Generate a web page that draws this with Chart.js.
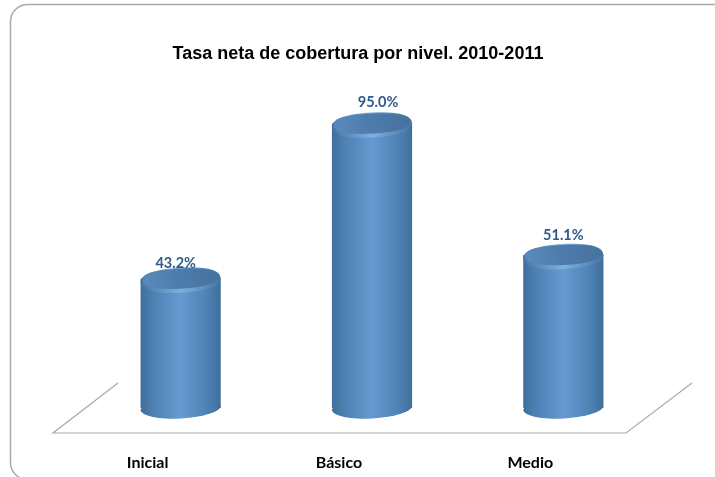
<!DOCTYPE html>
<html>
<head>
<meta charset="utf-8">
<style>
  html, body { margin: 0; padding: 0; background: #fff; }
  #wrap { width: 715px; height: 477px; }
</style>
<script src="https://cdn.jsdelivr.net/npm/chart.js@4/dist/chart.umd.min.js"></script>
</head>
<body>
<div id="wrap"><canvas id="myChart" width="715" height="477"></canvas></div>
<script>
var categories = ['Inicial', 'Básico', 'Medio'];
var cobertura = [43.2, 95.0, 51.1];
var chartTitle = 'Tasa neta de cobertura por nivel. 2010-2011';

// degradado horizontal del cilindro
function cylinderGradient(ctx, x0, x1, edge, mid) {
    var g = ctx.createLinearGradient(x0, 0, x1, 0);
    g.addColorStop(0, edge);
    g.addColorStop(0.14, '#4c7fb1');
    g.addColorStop(0.5, mid);
    g.addColorStop(0.86, '#4c7fb1');
    g.addColorStop(1, edge);
    return g;
}

// elipse algo cuadrada, como la tapa biselada del original
function capPath(c, cx, cy, rx, ry, tilt) {
    var k = 0.65;
    c.save();
    c.translate(cx, cy);
    c.rotate(tilt);
    c.beginPath();
    c.moveTo(-rx, 0);
    c.bezierCurveTo(-rx, -ry * k, -rx * k, -ry, 0, -ry);
    c.bezierCurveTo(rx * k, -ry, rx, -ry * k, rx, 0);
    c.bezierCurveTo(rx, ry * k, rx * k, ry, 0, ry);
    c.bezierCurveTo(-rx * k, ry, -rx, ry * k, -rx, 0);
    c.closePath();
    c.restore();
}

// marco redondeado y piso en perspectiva, detras de las barras
var backdrop = {
    id: 'backdrop',
    afterLayout: function (chart) {
        // el titulo va centrado en la pagina, no sobre el area de barras
        chart.titleBlock.left -= 28;
    },
    beforeDatasetsDraw: function (chart) {
        var c = chart.ctx, a = chart.chartArea;
        c.save();
        c.strokeStyle = '#aaaaaa';
        c.lineWidth = 1.5;
        c.beginPath();
        c.roundRect(10.5, 4.5, 760, 475, 17);
        c.stroke();
        var floorY = a.bottom + 25;
        c.lineWidth = 1.2;
        c.beginPath();
        c.moveTo(a.left + 33, a.bottom - 25);
        c.lineTo(a.left - 32, floorY);
        c.lineTo(a.right - 33, floorY);
        c.lineTo(a.right + 33, a.bottom - 25);
        c.stroke();
        c.restore();
    }
};

// tapas elipticas y etiquetas de valor
var cylinders = {
    id: 'cylinders',
    afterDatasetsDraw: function (chart) {
        var c = chart.ctx;
        var nudgeX = [-5, 6, 0];
        var nudgeY = [-15, -21, -20];
        chart.getDatasetMeta(0).data.forEach(function (bar, i) {
            var rx = bar.width / 2, ry = 11, tilt = -0.055;
            var x0 = bar.x - rx, x1 = bar.x + rx;
            c.save();
            // base
            c.fillStyle = cylinderGradient(c, x0, x1, '#3f6e9a', '#669bd1');
            c.beginPath();
            c.ellipse(bar.x, bar.base, rx, ry - 0.5, tilt, 0, Math.PI * 2);
            c.fill();
            // borde claro de la tapa
            var rim = c.createLinearGradient(x0, 0, x1, 0);
            rim.addColorStop(0, '#4575a5');
            rim.addColorStop(0.5, '#7fb1e0');
            rim.addColorStop(1, '#4575a5');
            c.fillStyle = rim;
            capPath(c, bar.x, bar.y + 1.5, rx, ry + 1.5, tilt);
            c.fill();
            // tapa
            var top = c.createLinearGradient(x0, bar.y + 8, x1, bar.y - 8);
            top.addColorStop(0, '#5b8cbd');
            top.addColorStop(0.45, '#4e7dad');
            top.addColorStop(1, '#45719d');
            c.fillStyle = top;
            capPath(c, bar.x, bar.y, rx - 2, ry - 1, tilt);
            c.fill();
            // valor
            c.fillStyle = '#2f5a8a';
            c.font = 'bold 14.5px Lato, "Open Sans", sans-serif';
            c.textAlign = 'center';
            c.textBaseline = 'middle';
            c.fillText(cobertura[i].toFixed(1) + '%', bar.x + nudgeX[i], bar.y + nudgeY[i]);
            c.restore();
        });
    }
};

var ctx = document.getElementById('myChart').getContext('2d');
var myChart = new Chart(ctx, {
    type: 'bar',
    data: {
        labels: categories,
        datasets: [{
            data: cobertura,
            borderWidth: 0,
            backgroundColor: function (context) {
                var chart = context.chart, a = chart.chartArea;
                if (!a) return '#5b8fc4';
                var w = a.width / categories.length;
                var half = w * 0.419 / 2;
                var cx = a.left + w * (context.dataIndex + 0.5);
                return cylinderGradient(chart.ctx, cx - half, cx + half, '#3f6e9a', '#669bd1');
            },
            categoryPercentage: 1,
            barPercentage: 0.419
        }]
    },
    options: {
        responsive: false,
        animation: false,
        layout: { padding: { left: 85, right: 56, top: 0, bottom: 0 } },
        plugins: {
            legend: { display: false },
            tooltip: { enabled: false },
            title: {
                display: true,
                text: chartTitle,
                color: '#000',
                font: { family: '"Liberation Sans", Arial, sans-serif', size: 18, weight: 'bold' },
                padding: { top: 43, bottom: 44 }
            }
        },
        scales: {
            x: {
                grid: { display: false },
                border: { display: false },
                afterFit: function (scale) { scale.height = 69; },
                ticks: {
                    color: '#000',
                    labelOffset: -33,
                    padding: 37,
                    maxRotation: 0,
                    font: { family: 'Lato, "Open Sans", sans-serif', size: 16, weight: 'bold' }
                }
            },
            y: {
                display: false,
                min: 0,
                max: 100
            }
        }
    },
    plugins: [backdrop, cylinders]
});
</script>
</body>
</html>
